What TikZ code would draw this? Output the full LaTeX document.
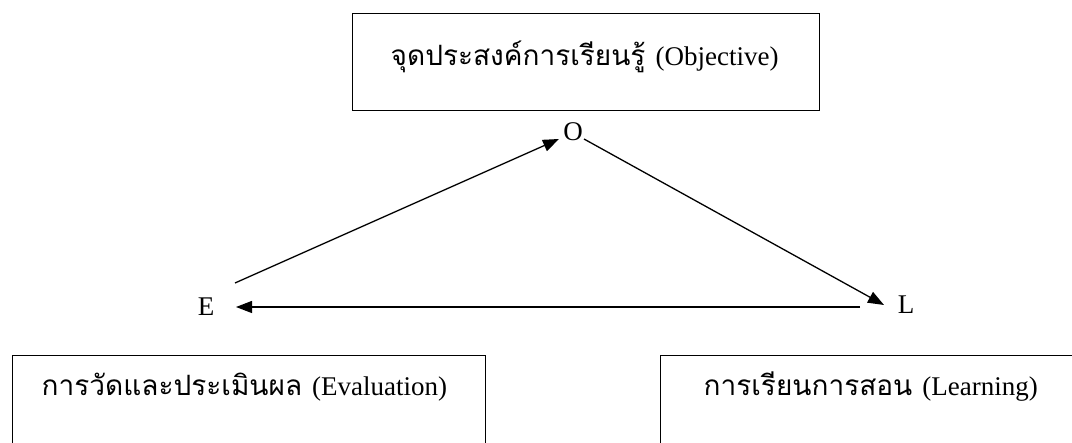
\documentclass[tikz,border=0pt]{standalone}
\usepackage{fontspec}
\setmainfont{Liberation Serif}
\newfontfamily\thai[Script=Thai]{Loma}
\usetikzlibrary{arrows.meta,calc}
\newcommand{\thtxt}[1]{{\thai\fontsize{28}{32}\selectfont #1}\hspace{10pt}}
\begin{document}
\begin{tikzpicture}[x=1pt,y=-1pt,
  box/.style={draw, line width=1.4pt, anchor=north west, inner ysep=0pt,
    font=\fontsize{27}{30}\selectfont},
  lbl/.style={inner sep=0pt, font=\fontsize{27}{30}\selectfont},
  arr/.style={line width=1.3pt, -{Triangle[length=16pt,width=12pt]}}]
\useasboundingbox (0,0) rectangle (1072,443);
% boxes
\node[box, inner xsep=38pt, text height=52pt, text depth=45pt] (obj) at (352,13)
  {\makebox[391pt][l]{\thtxt{จุดประสงค์การเรียนรู้}(Objective)}};
\node[box, inner xsep=29pt, text height=40pt, text depth=70pt] (eva) at (12,355)
  {\makebox[415pt][l]{\thtxt{การวัดและประเมินผล}(Evaluation)}};
\node[box, inner xsep=43pt, text height=40pt, text depth=70pt] (lea) at (660,355)
  {\makebox[400pt][l]{\thtxt{การเรียนการสอน}(Learning)}};
% labels
\node[lbl] (O) at (573,132) {O};
\node[lbl] (E) at (206,307) {E};
\node[lbl] (L) at (906,305) {L};
% connectors
\draw[arr] ($(E.center)+(29,-24)$) -- ($(O.center)+(-14,7)$);
\draw[arr] ($(O.center)+(11,7)$) -- ($(L.center)+(-22,0)$);
\draw[arr] ($(L.center)+(-46,2)$) -- ($(E.center)+(30,0)$);
\end{tikzpicture}
\end{document}
